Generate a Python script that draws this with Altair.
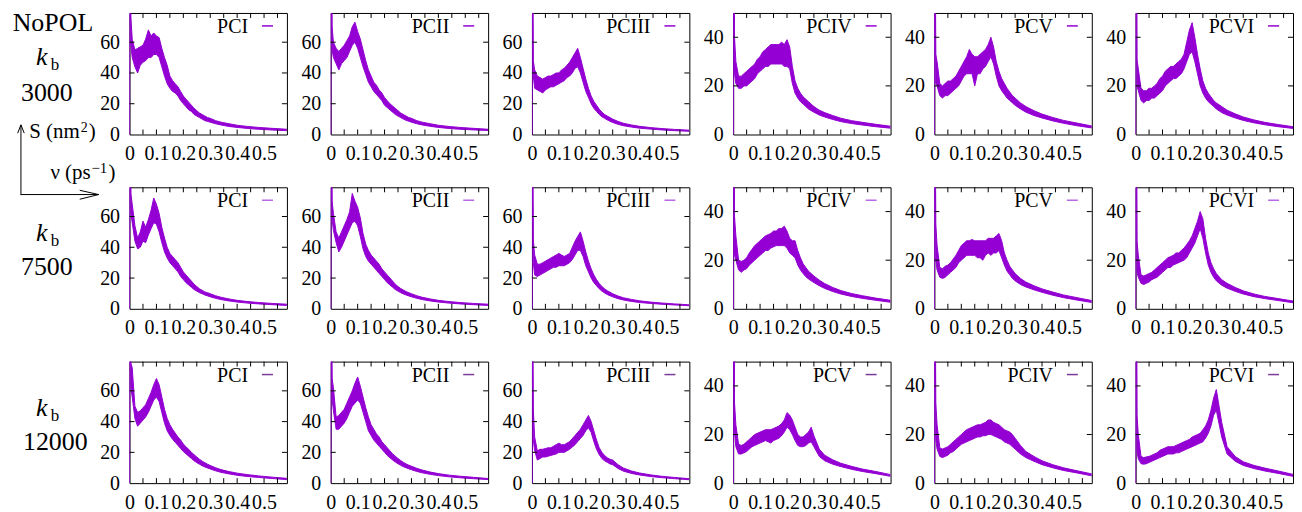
import altair as alt
import pandas as pd

PURPLE = "#9400d3"
SERIF = "Liberation Serif"
W, H = 158, 122
TICK = 5
XMAX = 0.585

# frequency grid (ps^-1) shared by all panels
XS = [0, 0.001, 0.005, 0.01, 0.02, 0.03, 0.04, 0.05, 0.06, 0.07, 0.08, 0.09, 0.10,
      0.11, 0.12, 0.13, 0.14, 0.15, 0.16, 0.17, 0.18, 0.19, 0.20,
      0.21, 0.22, 0.23, 0.24, 0.25, 0.26, 0.27, 0.28, 0.29, 0.30,
      0.32, 0.34, 0.37, 0.40, 0.44, 0.48, 0.53, 0.585]
X_TICKS = [0.05, 0.10, 0.15, 0.20, 0.25, 0.30, 0.35, 0.40, 0.45, 0.50, 0.55]
X_LABELS = [0, 0.1, 0.2, 0.3, 0.4, 0.5]
Y_LABELS_BIG = [0, 20, 40, 60]
Y_LABELS_SMALL = [0, 20, 40]
Y_MAX_BIG = 79
Y_MAX_SMALL = 50

ROW_KB = ["3000", "7500", "12000"]
NAMES = [["PCI", "PCII", "PCIII", "PCIV", "PCV", "PCVI"],
         ["PCI", "PCII", "PCIII", "PCIV", "PCV", "PCVI"],
         ["PCI", "PCII", "PCIII", "PCV", "PCIV", "PCVI"]]
LEGEND_COLORS = ["#9400d3", "#b86ae6", "#7a3a9a"]

# ---- k_b = 3000 : lower / upper envelope of the noisy spectrum S (nm^2)
PCI_3000_LO = [0, 150, 58, 50, 44, 40, 45, 47, 48, 50, 50, 52, 52, 50, 44, 38, 33, 30, 28, 27, 25, 22, 20,
               18, 16, 15, 13, 12, 11, 10, 9, 8.5, 8, 7, 6.2, 5.2, 4.6, 3.9, 3.4, 2.9, 2.5]
PCI_3000_HI = [0, 150, 76, 62, 55, 56, 57, 58, 62, 68, 64, 66, 64, 63, 56, 50, 45, 38, 35, 33, 31, 28, 25,
               23, 21, 19, 17, 15.5, 14, 13, 12, 11, 10.5, 9, 8, 7, 6, 5.2, 4.6, 4.0, 3.4]
PCII_3000_LO = [0, 150, 55, 50, 46, 42, 46, 48, 50, 54, 58, 60, 56, 50, 44, 39, 34, 31, 28, 26, 24, 22, 19,
                17.5, 16, 14.5, 13, 12, 11, 10, 9.2, 8.6, 8, 7, 6.2, 5.3, 4.6, 3.9, 3.4, 3.0, 2.6]
PCII_3000_HI = [0, 150, 70, 60, 56, 54, 56, 58, 61, 64, 70, 73, 67, 62, 55, 48, 42, 38, 34, 32, 29, 27, 24,
                22, 20, 18.5, 17, 15.5, 14, 13, 12, 11, 10.5, 9, 8, 7, 6, 5.2, 4.6, 4.0, 3.4]
PCIII_3000_LO = [0, 150, 38, 30, 29, 28, 27, 29, 30, 31, 31, 32, 33, 34, 35, 37, 38, 40, 43, 44, 40, 34, 28,
                 24, 20, 17, 15, 13, 11.5, 10.5, 9.5, 8.6, 7.8, 6.6, 5.7, 4.8, 4.1, 3.5, 3.0, 2.5, 2.1]
PCIII_3000_HI = [0, 150, 48, 42, 38, 37, 36, 37, 38, 38, 39, 40, 40, 42, 43, 45, 47, 50, 53, 56, 50, 43, 36,
                 30, 25, 21.5, 19, 16.5, 14.5, 13, 12, 11, 10, 8.5, 7.3, 6.2, 5.3, 4.5, 3.9, 3.3, 2.8]
PCIV_3000_LO = [0, 150, 25, 21, 19, 19, 20, 20, 21, 22, 23, 25, 26, 27, 28, 28, 29, 29, 29, 29, 29, 28, 28,
                27, 21, 17, 15, 13.5, 12.5, 11.5, 10.5, 9.8, 9.2, 8, 7.2, 6.2, 5.3, 4.5, 3.9, 3.2, 2.6]
PCIV_3000_HI = [0, 150, 40, 30, 24, 24, 25, 26, 27, 28, 29, 31, 32, 34, 35, 36, 37, 37, 37, 37, 38, 37, 39,
                36, 28, 22, 19, 17, 15.5, 14.5, 13.5, 12.5, 11.5, 10, 9, 7.8, 6.7, 5.7, 5.0, 4.2, 3.4]
PCV_3000_LO = [0, 150, 21, 20, 16, 15, 16, 16, 17, 18, 19, 20, 22, 24, 25, 25, 25, 20, 25, 25, 27, 28, 30,
               32, 29, 24, 20, 18, 16.5, 15, 14, 13, 12, 10.5, 9.2, 7.8, 6.8, 5.6, 4.6, 3.6, 2.7]
PCV_3000_HI = [0, 150, 33, 30, 21, 20, 21, 22, 22, 23, 24, 26, 28, 30, 32, 35, 33, 32, 32, 33, 34, 35, 37,
               40, 36, 30, 26, 23, 21, 19, 17.5, 16, 15, 13, 11.5, 9.8, 8.4, 7.0, 5.8, 4.7, 3.5]
PCVI_3000_LO = [0, 150, 20, 18, 14, 13, 14, 14, 15, 15, 16, 17, 18, 20, 21, 22, 23, 23, 24, 25, 27, 30, 33,
                34, 30, 25, 20, 17, 15, 13.5, 12.5, 11.5, 10.5, 9, 8, 6.8, 5.8, 4.8, 4.0, 3.2, 2.5]
PCVI_3000_HI = [0, 150, 31, 27, 19, 18, 18, 19, 19, 20, 21, 23, 24, 26, 27, 28, 28, 29, 30, 31, 33, 38, 43,
                46, 40, 33, 27, 22, 19, 17, 15.5, 14, 13, 11.5, 10, 8.5, 7.2, 6.0, 5.0, 4.1, 3.2]

# ---- k_b = 7500
PCI_7500_LO = [0, 150, 62, 56, 44, 39, 40, 44, 43, 48, 52, 56, 55, 50, 43, 37, 33, 30, 28, 26, 24, 21, 19,
               17, 15.5, 14, 12.5, 11.5, 10.5, 9.8, 9, 8.4, 7.8, 6.8, 6.0, 5.1, 4.4, 3.7, 3.2, 2.7, 2.2]
PCI_7500_HI = [0, 150, 75, 68, 54, 46, 50, 57, 53, 58, 64, 72, 68, 62, 53, 46, 40, 36, 34, 32, 30, 27, 24,
               22, 20, 18, 16, 14.5, 13, 12, 11, 10.5, 9.8, 8.5, 7.5, 6.4, 5.5, 4.7, 4.1, 3.5, 3.0]
PCII_7500_LO = [0, 150, 58, 51, 43, 37, 40, 44, 48, 52, 56, 57, 54, 47, 39, 34, 31, 29, 27, 25, 23, 21, 19,
                17, 15.5, 14, 12.5, 11.5, 10.5, 9.7, 9, 8.4, 7.8, 6.8, 6.0, 5.1, 4.4, 3.7, 3.2, 2.7, 2.2]
PCII_7500_HI = [0, 150, 70, 62, 50, 46, 50, 54, 58, 63, 75, 70, 66, 59, 49, 42, 38, 35, 33, 31, 29, 26, 24,
                22, 20, 18, 16, 14.5, 13.2, 12.2, 11.2, 10.5, 9.8, 8.5, 7.5, 6.4, 5.5, 4.7, 4.1, 3.5, 3.0]
PCIII_7500_LO = [0, 150, 30, 22, 21, 22, 23, 24, 25, 26, 27, 27, 28, 28, 28, 29, 30, 32, 35, 38, 38, 34, 28,
                 24, 20, 17, 15, 13, 11.5, 10.3, 9.3, 8.5, 7.8, 6.6, 5.7, 4.8, 4.1, 3.5, 3.0, 2.5, 2.0]
PCIII_7500_HI = [0, 150, 45, 35, 29, 29, 30, 31, 32, 33, 34, 35, 36, 35, 34, 35, 36, 40, 44, 47, 50, 44, 37,
                 31, 26, 22, 19, 16.5, 14.5, 13, 11.8, 10.8, 9.8, 8.3, 7.2, 6.1, 5.2, 4.4, 3.8, 3.2, 2.6]
PCIV_7500_LO = [0, 150, 22, 20, 16, 15, 16, 16.5, 18, 19, 20, 21, 22, 23, 24, 24, 25, 25.5, 26, 26, 26, 26, 25,
                23, 22, 21, 18, 16, 14.5, 13.2, 12.3, 11.5, 10.8, 9.5, 8.4, 7.1, 6.1, 5.1, 4.3, 3.5, 2.7]
PCIV_7500_HI = [0, 150, 38, 30, 20, 19.5, 20, 21, 23, 24.5, 26, 27, 28, 29, 30, 30.5, 31, 32, 32, 33, 33, 34, 32,
                29, 28, 28, 24, 21, 18.5, 17, 15.5, 14.5, 13.5, 11.8, 10.4, 8.8, 7.5, 6.3, 5.4, 4.4, 3.5]
PCV_7500_LO = [0, 150, 20, 16, 13, 12.5, 13, 14, 15, 16, 17, 19, 20, 21, 22, 22, 22, 22, 21, 21, 20, 22, 23,
               22, 23, 23, 24, 21, 18, 15.5, 14, 12.5, 11.5, 10, 9, 7.8, 6.8, 5.6, 4.6, 3.6, 2.6]
PCV_7500_HI = [0, 150, 35, 26, 17, 16.5, 17.5, 18, 19, 20.5, 22, 24, 26, 27, 28, 28, 28.5, 28, 28, 28, 28, 28, 29,
               29, 29, 30, 31, 28, 23, 20, 17.5, 16, 14.5, 12.5, 11, 9.5, 8.2, 6.9, 5.7, 4.6, 3.4]
PCVI_7500_LO = [0, 150, 15, 13, 10.5, 10, 10.5, 11, 12, 12.5, 13, 14, 15, 16, 17, 17, 18, 18.5, 19, 19.5, 20, 21, 23,
                25, 27, 30, 33, 29, 23, 18, 15, 13, 11.5, 9.7, 8.5, 7.2, 6.1, 5.0, 4.2, 3.4, 2.5]
PCVI_7500_HI = [0, 150, 28, 22, 14, 13.5, 14, 14.5, 15, 16, 17, 18, 19, 20, 21, 21.5, 22, 23, 23, 24, 25, 26.5, 28,
                30, 33, 36, 40, 37, 29, 23, 19, 16.5, 14.5, 12, 10.5, 8.8, 7.4, 6.1, 5.1, 4.2, 3.2]

# ---- k_b = 12000
PCI_12000_LO = [0, 150, 62, 56, 42, 37, 39, 41, 43, 46, 50, 54, 56, 53, 46, 39, 34, 31, 28.5, 26.5, 24.5, 22.5, 20.5,
                19, 17.5, 16, 14.5, 13.3, 12.3, 11.3, 10.5, 9.8, 9.2, 8, 7, 6, 5.1, 4.3, 3.7, 3.0, 2.3]
PCI_12000_HI = [0, 150, 78, 75, 50, 46, 47, 49, 51, 55, 59, 64, 68, 64, 56, 48, 42, 38, 35, 32.5, 30, 28, 25.5,
                23.5, 22, 20, 18.5, 17, 15.5, 14.3, 13.3, 12.3, 11.5, 10, 8.8, 7.5, 6.5, 5.5, 4.7, 3.9, 3.1]
PCII_12000_LO = [0, 150, 55, 47, 35, 35, 37, 39, 42, 46, 50, 52, 54, 52, 46, 40, 34, 31, 28, 26, 24, 22, 20,
                 18, 16.5, 15, 13.7, 12.6, 11.6, 10.7, 10, 9.3, 8.7, 7.6, 6.7, 5.7, 4.9, 4.1, 3.5, 2.9, 2.3]
PCII_12000_HI = [0, 150, 68, 62, 43, 44, 46, 48, 52, 56, 60, 65, 69, 63, 56, 49, 43, 38, 35, 32, 30, 27, 25,
                 23, 21, 19, 17.5, 16, 14.7, 13.5, 12.5, 11.7, 11, 9.6, 8.5, 7.2, 6.2, 5.2, 4.5, 3.8, 3.0]
PCIII_12000_LO = [0, 150, 28, 21, 15, 16, 17, 17, 17.5, 18, 18.5, 19, 20, 20, 20, 21, 22, 23.5, 25, 27, 29, 31, 34,
                  36, 33, 27, 22, 18.5, 16, 14.5, 13.5, 12.5, 12, 9.5, 7.8, 6.3, 5.3, 4.3, 3.6, 2.9, 2.2]
PCIII_12000_HI = [0, 150, 48, 30, 21, 22, 22, 22.5, 23, 23, 24, 25, 26, 25, 25, 26, 27, 29, 31, 33, 35, 38, 41,
                  44, 40, 34, 28, 23, 20, 18, 16.5, 15.5, 15, 12, 9.8, 7.9, 6.6, 5.4, 4.5, 3.7, 2.9]
PCV_12000_LO = [0, 150, 21, 15, 12, 12, 12.5, 13, 14, 15, 15.5, 16, 16.5, 17, 17.5, 17, 16.5, 17.5, 18, 18.5, 19.5, 21, 23,
                22, 20, 17.5, 15.5, 15, 15, 15.5, 16.5, 17, 15, 11, 9.2, 7.8, 6.8, 5.7, 4.8, 3.9, 2.8]
PCV_12000_HI = [0, 150, 33, 24, 16, 15.5, 16, 17, 18, 19, 20, 20.5, 21, 21.5, 22, 22, 22, 22.5, 23, 23.5, 24.5, 26, 29,
                28, 26, 23, 20, 19, 19, 20, 21, 23, 19.5, 14, 11.5, 9.6, 8.2, 6.9, 5.8, 4.8, 3.5]
PCIV_12000_LO = [0, 150, 18, 14, 11, 10.5, 11, 11.5, 12.5, 13, 14, 15, 16, 16.5, 17, 17.5, 18, 18.5, 19, 19, 19.5, 19.5, 20,
                 20, 19.5, 19, 18.5, 18, 17, 16.5, 16, 15, 14, 12, 10.5, 9, 7.6, 6.3, 5.2, 4.2, 3.0]
PCIV_12000_HI = [0, 150, 33, 24, 14.5, 14, 14.5, 15, 16, 17, 18, 19, 20, 21, 22, 22.5, 23, 23.5, 24, 24, 24.5, 25, 26,
                 26, 25, 24.5, 24, 23, 22, 21.5, 21, 20, 18.5, 15.5, 13, 11, 9.2, 7.6, 6.3, 5.1, 3.8]
PCVI_12000_LO = [0, 150, 13, 10, 8, 7.8, 8, 8.5, 9, 9.5, 10, 10.5, 11, 11.5, 12, 12, 12, 12.5, 12.5, 13, 13.5, 14, 14.5,
                 15, 15.5, 16, 16.5, 17, 18.5, 20.5, 23.5, 28, 30, 19, 12, 9, 7.3, 6, 5, 4, 2.8]
PCVI_12000_HI = [0, 150, 28, 20, 11, 10.5, 10.8, 11, 11.5, 12, 12.5, 13.5, 14, 14.5, 15, 15, 15, 15.5, 16, 16.5, 17, 17.5, 18,
                 19, 19.5, 20, 20.5, 22, 23.5, 26, 30, 35, 38.5, 25, 15, 11, 8.8, 7.3, 6.2, 5, 3.6]

SERIES = [
    [(PCI_3000_LO, PCI_3000_HI), (PCII_3000_LO, PCII_3000_HI), (PCIII_3000_LO, PCIII_3000_HI),
     (PCIV_3000_LO, PCIV_3000_HI), (PCV_3000_LO, PCV_3000_HI), (PCVI_3000_LO, PCVI_3000_HI)],
    [(PCI_7500_LO, PCI_7500_HI), (PCII_7500_LO, PCII_7500_HI), (PCIII_7500_LO, PCIII_7500_HI),
     (PCIV_7500_LO, PCIV_7500_HI), (PCV_7500_LO, PCV_7500_HI), (PCVI_7500_LO, PCVI_7500_HI)],
    [(PCI_12000_LO, PCI_12000_HI), (PCII_12000_LO, PCII_12000_HI), (PCIII_12000_LO, PCIII_12000_HI),
     (PCV_12000_LO, PCV_12000_HI), (PCIV_12000_LO, PCIV_12000_HI), (PCVI_12000_LO, PCVI_12000_HI)],
]

ONE = pd.DataFrame({"a": [0]})


def text_layer(txt, px, py, size, italic=False, align="left"):
    kw = dict(align=align, baseline="alphabetic", font=SERIF, fontSize=size, color="black")
    if italic:
        kw["fontStyle"] = "italic"
    return alt.Chart(pd.DataFrame({"t": [txt]})).mark_text(**kw).encode(
        text="t:N", x=alt.value(px), y=alt.value(py))


def seg(x1, y1, x2, y2):
    return alt.Chart(ONE).mark_rule(color="black", strokeWidth=1).encode(
        x=alt.value(x1), y=alt.value(y1), x2=alt.value(x2), y2=alt.value(y2))


def row_annotations(r):
    k_base = [52, 54, 55][r]
    n_base = [88, 88, 89][r]
    n_x = [-109, -109, -107][r]
    layers = [
        text_layer("k", -94, k_base, 26, italic=True),
        text_layer("b", -79, k_base + 5, 17),
        text_layer(ROW_KB[r], n_x, n_base, 26),
    ]
    if r == 0:
        layers += [
            text_layer("NoPOL", -117.3, 18, 26),
            text_layer("S (nm", -50, 125.7, 21, align="right"),
            text_layer("2", -49, 119.7, 14),
            text_layer(")", -41, 125.7, 21),
            text_layer("ν (ps", -39, 166.5, 21, align="right"),
            text_layer("−1", -38.3, 160.7, 15),
            text_layer(")", -21, 166.5, 21),
            seg(-109, 182.3, -109, 112.3),
            seg(-112.3, 120.7, -109, 112.3),
            seg(-105.7, 120.7, -109, 112.3),
            seg(-109.5, 182.3, -31, 182.3),
            seg(-50, 178, -31, 182.3),
            seg(-50, 187, -31, 182.3),
        ]
    return layers


def panel(r, c):
    name = NAMES[r][c]
    lo, hi = SERIES[r][c]
    big = c < 3
    ymax = Y_MAX_BIG if big else Y_MAX_SMALL
    yvals = Y_LABELS_BIG if big else Y_LABELS_SMALL
    df = pd.DataFrame({"nu": XS, "lo": lo, "hi": hi})
    xsc = alt.Scale(domain=[0, XMAX], nice=False, zero=False)
    ysc = alt.Scale(domain=[0, ymax], nice=False, zero=False)
    xax = alt.Axis(values=X_LABELS, format=".1~f", ticks=False, tickSize=0, domain=False, grid=False,
                   title=None, labelPadding=9, labelFlush=False, labelOverlap=False)
    yax = alt.Axis(values=yvals, format="d", ticks=False, tickSize=0, domain=False, grid=False,
                   title=None, labelPadding=10, labelFlush=False, labelOverlap=False)

    band = alt.Chart(df).mark_area(color=PURPLE, clip=True, opacity=1).encode(
        x=alt.X("nu:Q", scale=xsc, axis=xax), y=alt.Y("lo:Q", scale=ysc, axis=yax), y2="hi:Q")
    top = alt.Chart(df).mark_line(color=PURPLE, strokeWidth=1, clip=True).encode(
        x=alt.X("nu:Q", scale=xsc, axis=xax), y=alt.Y("hi:Q", scale=ysc, axis=yax))
    bot = alt.Chart(df).mark_line(color=PURPLE, strokeWidth=1, clip=True).encode(
        x=alt.X("nu:Q", scale=xsc, axis=xax), y=alt.Y("lo:Q", scale=ysc, axis=yax))

    dxt = pd.DataFrame({"nu": X_TICKS})
    dyt = pd.DataFrame({"lo": yvals[1:]})
    xt_b = alt.Chart(dxt).mark_rule(color="black", strokeWidth=1).encode(
        x=alt.X("nu:Q", scale=xsc, axis=xax), y=alt.value(H), y2=alt.value(H - TICK))
    xt_t = alt.Chart(dxt).mark_rule(color="black", strokeWidth=1).encode(
        x=alt.X("nu:Q", scale=xsc, axis=xax), y=alt.value(0), y2=alt.value(TICK))
    yt_l = alt.Chart(dyt).mark_rule(color="black", strokeWidth=1).encode(
        y=alt.Y("lo:Q", scale=ysc, axis=yax), x=alt.value(0), x2=alt.value(TICK))
    yt_r = alt.Chart(dyt).mark_rule(color="black", strokeWidth=1).encode(
        y=alt.Y("lo:Q", scale=ysc, axis=yax), x=alt.value(W), x2=alt.value(W - TICK))

    lg_t = alt.Chart(pd.DataFrame({"t": [name]})).mark_text(
        align="right", baseline="alphabetic", font=SERIF, fontSize=20, color="black").encode(
        text="t:N", x=alt.value(119), y=alt.value(20))
    lg_l = alt.Chart(ONE).mark_rule(color=LEGEND_COLORS[r], strokeWidth=1.5).encode(
        x=alt.value(133), x2=alt.value(144), y=alt.value(13))

    layers = [band, top, bot, xt_b, xt_t, yt_l, yt_r, lg_t, lg_l]
    if c == 0:
        layers += row_annotations(r)
    return alt.layer(*layers).properties(width=W, height=H)


panels = [panel(r, c) for r in range(3) for c in range(6)]

chart = alt.concat(
    *panels, columns=6, spacing={"row": 53, "column": 44}, bounds="flush"
).resolve_scale(
    x="independent", y="independent"
).properties(
    padding={"left": 4, "top": 0, "right": 0, "bottom": 0}
).configure_view(
    stroke="black", strokeWidth=1
).configure_axis(
    labelFont=SERIF, labelFontSize=20, labelColor="black"
)

chart.save("out.html", embed_options={"renderer": "svg", "actions": False})
